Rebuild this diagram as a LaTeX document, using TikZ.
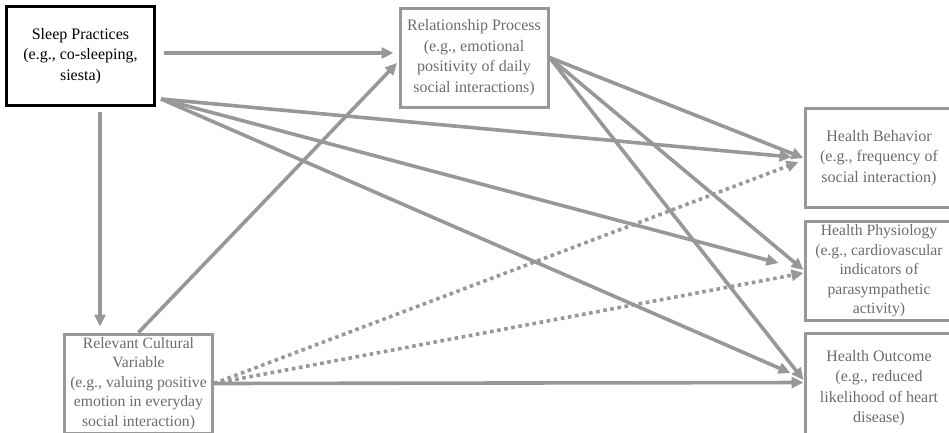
\documentclass[tikz,border=0pt]{standalone}
\usepackage{fontspec}
\setmainfont{Liberation Serif}
\usetikzlibrary{arrows.meta}
\definecolor{linegray}{RGB}{152,152,152}
\definecolor{textgray}{RGB}{108,108,108}
\tikzset{
  model box/.style={
    draw=linegray,
    line width=3pt,
    text=textgray,
    align=center,
    minimum width=148pt,
    minimum height=99pt,
    inner sep=0pt,
    font=\fontsize{16}{20.5}\selectfont,
  },
  link/.style={
    draw=linegray,
    line width=3.6pt,
    -{Triangle[length=12pt, width=11pt]},
  },
  dotlink/.style={
    link,
    dash pattern=on 3.6pt off 3.6pt,
  },
}

\begin{document}
\begin{tikzpicture}[x=1pt, y=-1pt]
      \useasboundingbox (0,0) rectangle (949,432);
      \clip (0,0) rectangle (949,432);

      \node[model box, draw=black, text=black] (sleep) at (80.5,56)
        {Sleep Practices\\(e.g., co-sleeping,\\siesta)};
      \node[model box] (rel) at (474,57.5)
        {Relationship Process\\(e.g., emotional\\positivity of daily\\social interactions)};
      \node[model box, font=\fontsize{15.7}{19.6}\selectfont] (cult) at (138.5,383.5)
        {Relevant Cultural\\Variable\\(e.g., valuing positive\\emotion in everyday\\social interaction)};
      \node[model box] (hb) at (879,158)
        {Health Behavior\\(e.g., frequency of\\social interaction)};
      \node[model box, font=\fontsize{15.7}{19.6}\selectfont] (hp) at (879,271)
        {Health Physiology\\(e.g., cardiovascular\\indicators of\\parasympathetic\\activity)};
      \node[model box, minimum height=110pt] (ho) at (879,388)
        {Health Outcome\\(e.g., reduced\\likelihood of heart\\disease)};

      \coordinate (fan) at ([shift={(5pt,8pt)}]sleep.south east);

      % paths from sleep practices
      \draw[link, shorten <=8pt, shorten >=5pt] ([yshift=3pt]sleep.east) -- ([yshift=4.5pt]rel.west);
      \draw[link, shorten <=5pt, shorten >=6pt] ([xshift=19.5pt]sleep.south) -- ([xshift=-38.5pt]cult.north);
      \draw[link] (fan) -- ([shift={(-12pt,1pt)}]hb.west);
      \draw[link] (fan) -- ([shift={(-25pt,8pt)}]hp.west);
      \draw[link] (fan) -- ([shift={(-13pt,15pt)}]ho.west);

      % paths from relationship process
      \draw[link] (rel.east) -- (hb.west);
      \draw[link] (rel.east) -- ([yshift=1pt]hp.west);
      \draw[link] (rel.east) -- ([yshift=8pt]ho.west);

      % paths from cultural variable
      \draw[link, shorten >=2pt] (cult.north) -- ([yshift=-4pt]rel.west);
      \draw[dotlink] (cult.east) -- ([shift={(-5pt,-4pt)}]hb.west);
      \draw[dotlink] (cult.east) -- ([yshift=-2pt]hp.west);
      \draw[link] (cult.east) -- ([yshift=5.5pt]ho.west);
    \end{tikzpicture}
\end{document}
